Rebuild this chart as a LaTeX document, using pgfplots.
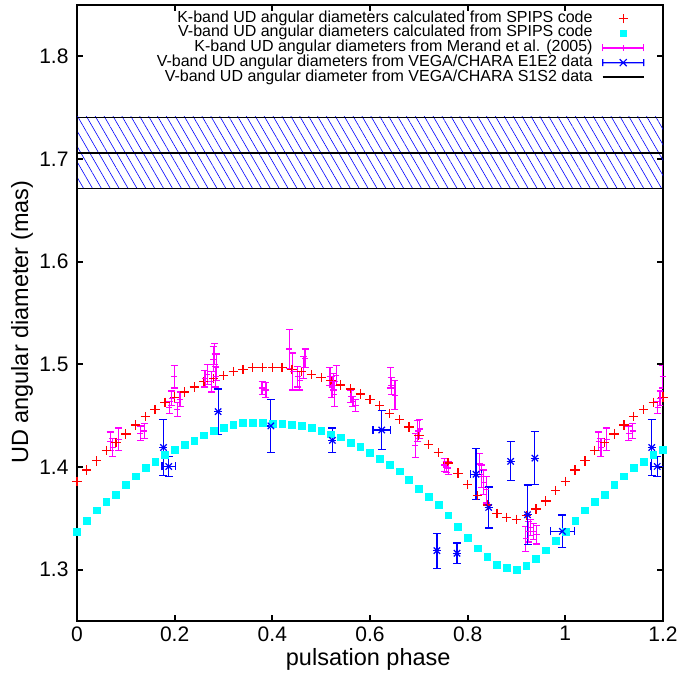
\documentclass[border=0pt]{standalone}
\usepackage{pgfplots}
\usepackage{pgfplotstable}
\pgfplotsset{compat=1.18}
\usepackage{fontspec}
\setmainfont{Liberation Sans}
\usetikzlibrary{patterns.meta}
\definecolor{gpred}{RGB}{255,0,0}
\definecolor{gpcyan}{RGB}{0,255,255}
\definecolor{gpmag}{RGB}{255,0,255}
\definecolor{gpblue}{RGB}{0,0,255}

\pgfplotstableread{
x y
0.00 1.386
0.02 1.397
0.04 1.406
0.06 1.416
0.08 1.424
0.10 1.432
0.12 1.441
0.14 1.449
0.16 1.456
0.18 1.463
0.20 1.468
0.22 1.473
0.24 1.478
0.26 1.483
0.28 1.486
0.30 1.489
0.32 1.493
0.34 1.495
0.36 1.497
0.38 1.497
0.40 1.497
0.42 1.497
0.44 1.495
0.46 1.493
0.48 1.490
0.50 1.487
0.52 1.484
0.54 1.480
0.56 1.476
0.58 1.471
0.60 1.466
0.62 1.460
0.64 1.452
0.66 1.446
0.68 1.439
0.70 1.431
0.72 1.422
0.74 1.414
0.76 1.404
0.78 1.394
0.80 1.383
0.82 1.372
0.84 1.363
0.86 1.355
0.88 1.351
0.90 1.349
0.92 1.353
0.94 1.359
0.96 1.367
0.98 1.377
1.00 1.386
1.02 1.397
1.04 1.406
1.06 1.416
1.08 1.424
1.10 1.432
1.12 1.441
1.14 1.449
1.16 1.456
1.18 1.463
1.20 1.468
}\kmodel

\pgfplotstableread{
x y
0.00 1.337
0.02 1.348
0.04 1.358
0.06 1.366
0.08 1.373
0.10 1.383
0.12 1.391
0.14 1.399
0.16 1.405
0.18 1.412
0.20 1.417
0.22 1.422
0.24 1.426
0.26 1.431
0.28 1.435
0.30 1.438
0.32 1.441
0.34 1.443
0.36 1.443
0.38 1.443
0.40 1.442
0.42 1.442
0.44 1.441
0.46 1.440
0.48 1.438
0.50 1.435
0.52 1.432
0.54 1.429
0.56 1.424
0.58 1.420
0.60 1.414
0.62 1.408
0.64 1.402
0.66 1.396
0.68 1.388
0.70 1.379
0.72 1.371
0.74 1.363
0.76 1.353
0.78 1.342
0.80 1.331
0.82 1.321
0.84 1.313
0.86 1.305
0.88 1.302
0.90 1.300
0.92 1.304
0.94 1.311
0.96 1.319
0.98 1.328
1.00 1.337
1.02 1.348
1.04 1.358
1.06 1.366
1.08 1.373
1.10 1.383
1.12 1.391
1.14 1.399
1.16 1.405
1.18 1.412
1.20 1.417
}\vmodel

\pgfplotstableread{
x y ey
0.068 1.425 0.009
0.073 1.419 0.009
0.085 1.427 0.011
0.130 1.433 0.007
0.138 1.435 0.007
0.189 1.458 0.006
0.194 1.467 0.007
0.199 1.488 0.011
0.205 1.456 0.007
0.211 1.466 0.007
0.262 1.486 0.008
0.267 1.490 0.010
0.275 1.483 0.010
0.279 1.505 0.012
0.282 1.510 0.010
0.285 1.497 0.013
0.284 1.488 0.010
0.379 1.477 0.006
0.387 1.475 0.007
0.435 1.515 0.019
0.442 1.493 0.018
0.452 1.488 0.010
0.456 1.484 0.009
0.464 1.497 0.011
0.467 1.506 0.009
0.518 1.488 0.009
0.522 1.478 0.010
0.525 1.483 0.008
0.527 1.471 0.012
0.531 1.489 0.010
0.561 1.469 0.006
0.565 1.464 0.005
0.571 1.460 0.006
0.642 1.487 0.010
0.644 1.479 0.008
0.651 1.470 0.014
0.693 1.421 0.012
0.698 1.435 0.010
0.702 1.437 0.009
0.752 1.402 0.006
0.756 1.400 0.005
0.760 1.399 0.006
0.825 1.403 0.010
0.829 1.391 0.011
0.833 1.385 0.012
0.838 1.378 0.013
0.919 1.330 0.012
0.924 1.337 0.010
0.929 1.341 0.008
0.935 1.337 0.008
0.941 1.334 0.009
1.068 1.425 0.009
1.073 1.419 0.009
1.085 1.427 0.011
1.130 1.433 0.007
1.138 1.435 0.007
1.189 1.458 0.006
1.194 1.467 0.007
1.199 1.488 0.011
}\merand

\pgfplotstableread{
x y ex ey
0.177 1.419 0.000 0.027
0.188 1.4005 0.014 0.010
0.289 1.454 0.000 0.022
0.397 1.440 0.000 0.026
0.523 1.426 0.000 0.012
0.624 1.436 0.018 0.019
0.737 1.3185 0.000 0.017
0.778 1.316 0.000 0.010
0.817 1.393 0.012 0.025
0.843 1.3606 0.000 0.020
0.888 1.4055 0.000 0.019
0.9226 1.3535 0.000 0.029
0.9376 1.4086 0.000 0.026
0.994 1.3373 0.025 0.016
1.177 1.419 0.000 0.027
1.188 1.4005 0.014 0.010
}\vega

\begin{document}
\begin{tikzpicture}
\path[use as bounding box] (-77pt,-54pt) rectangle (600pt,621pt);
\begin{axis}[
  at={(0pt,0pt)}, anchor=south west,
  scale only axis, width=586pt, height=616pt,
  xmin=0, xmax=1.2, ymin=1.25, ymax=1.85,
  xtick={0,0.2,0.4,0.6,0.8,1,1.2},
  xticklabels={0,0.2,0.4,0.6,0.8,1,1.2},
  ytick={1.3,1.4,1.5,1.6,1.7,1.8},
  yticklabels={1.3,1.4,1.5,1.6,1.7,1.8},
  tick align=inside, major tick length=6pt,
  tick style={line width=2pt, black},
  axis line style={line width=2.5pt},
  tick label style={font=\fontsize{21}{25}\selectfont},
  yticklabel style={xshift=-5pt},
  xticklabel style={yshift=-2pt},
  every axis x label/.style={at={([yshift=-38pt]rel axis cs:0.497,0)}, anchor=center, font=\fontsize{23.5}{27}\selectfont},
  every axis y label/.style={at={([xshift=-55pt]rel axis cs:0,0.485)}, anchor=center, rotate=90, font=\fontsize{23.5}{27}\selectfont},
  xlabel={pulsation phase},
  ylabel={UD angular diameter (mas)},
  legend plot pos=right,
  legend cell align=right,
  legend style={at={(1,1)}, anchor=north east, xshift=-15pt, yshift=-4pt,
    draw=none, fill=none, font=\fontsize{16}{16}\selectfont,
    column sep=9pt, row sep=0pt,
    nodes={inner sep=0pt, text height=11pt, text depth=3.7pt}},
]
\addplot[only marks, mark=+, mark size=4.7pt, color=gpred, line width=1.3pt,
  mark options={color=gpred},
  legend image code/.code={\draw[gpred, line width=1.3pt] (15.8pt,0pt) -- (25.2pt,0pt) (20.5pt,-4.7pt) -- (20.5pt,4.7pt);}]
  table[x=x, y=y] {\kmodel};
\addlegendentry{K-band UD angular diameters calculated from SPIPS code}

\addplot[only marks, mark=square*, mark size=3.4pt, color=gpcyan,
  mark options={draw=gpcyan, fill=gpcyan},
  legend image code/.code={\fill[gpcyan] (17.1pt,-3.4pt) rectangle (23.9pt,3.4pt);}]
  table[x=x, y=y] {\vmodel};
\addlegendentry{V-band UD angular diameters calculated from SPIPS code}

\addplot[only marks, mark=+, mark size=3pt, color=gpmag, line width=1.2pt,
  mark options={color=gpmag},
  legend image code/.code={
    \draw[gpmag, line width=1.2pt] (0pt,0pt) -- (41pt,0pt)
      (0pt,-3.5pt) -- (0pt,3.5pt) (41pt,-3.5pt) -- (41pt,3.5pt)
      (20.5pt,-3pt) -- (20.5pt,3pt);},
  error bars/.cd, y dir=both, y explicit,
  error mark options={rotate=90, mark size=3.5pt, line width=1.2pt, gpmag},
  error bar style={line width=1.2pt, gpmag}]
  table[x=x, y=y, y error=ey] {\merand};
\addlegendentry{K-band UD angular diameters from Merand et al. (2005)}

\addplot[only marks, mark=x, mark size=4.5pt, color=gpblue, line width=1.2pt,
  mark options={color=gpblue},
  legend image code/.code={
    \draw[gpblue, line width=1.2pt] (0pt,0pt) -- (41pt,0pt)
      (0pt,-3.5pt) -- (0pt,3.5pt) (41pt,-3.5pt) -- (41pt,3.5pt)
      (17pt,-3.5pt) -- (24pt,3.5pt) (17pt,3.5pt) -- (24pt,-3.5pt);},
  error bars/.cd, y dir=both, y explicit, x dir=both, x explicit,
  error mark options={rotate=90, mark size=4pt, line width=1.2pt, gpblue},
  error bar style={line width=1.2pt, gpblue}]
  table[x=x, y=y, x error=ex, y error=ey] {\vega};
\addlegendentry{V-band UD angular diameters from VEGA/CHARA E1E2 data}

% hatched band (S1S2 uncertainty)
\addplot[forget plot, draw=black, line width=0.8pt,
  pattern={Lines[angle=-60, distance=7.7pt, line width=0.6pt]}, pattern color=gpblue]
  coordinates {(0,1.671) (1.2,1.671) (1.2,1.741) (0,1.741) (0,1.671)};

\addplot[black, line width=2.2pt, no marks,
  legend image code/.code={\draw[black, line width=2.2pt] (0pt,0pt) -- (41pt,0pt);}]
  coordinates {(0,1.706) (1.2,1.706)};
\addlegendentry{V-band UD angular diameter from VEGA/CHARA S1S2 data}
\end{axis}
\end{tikzpicture}
\end{document}
